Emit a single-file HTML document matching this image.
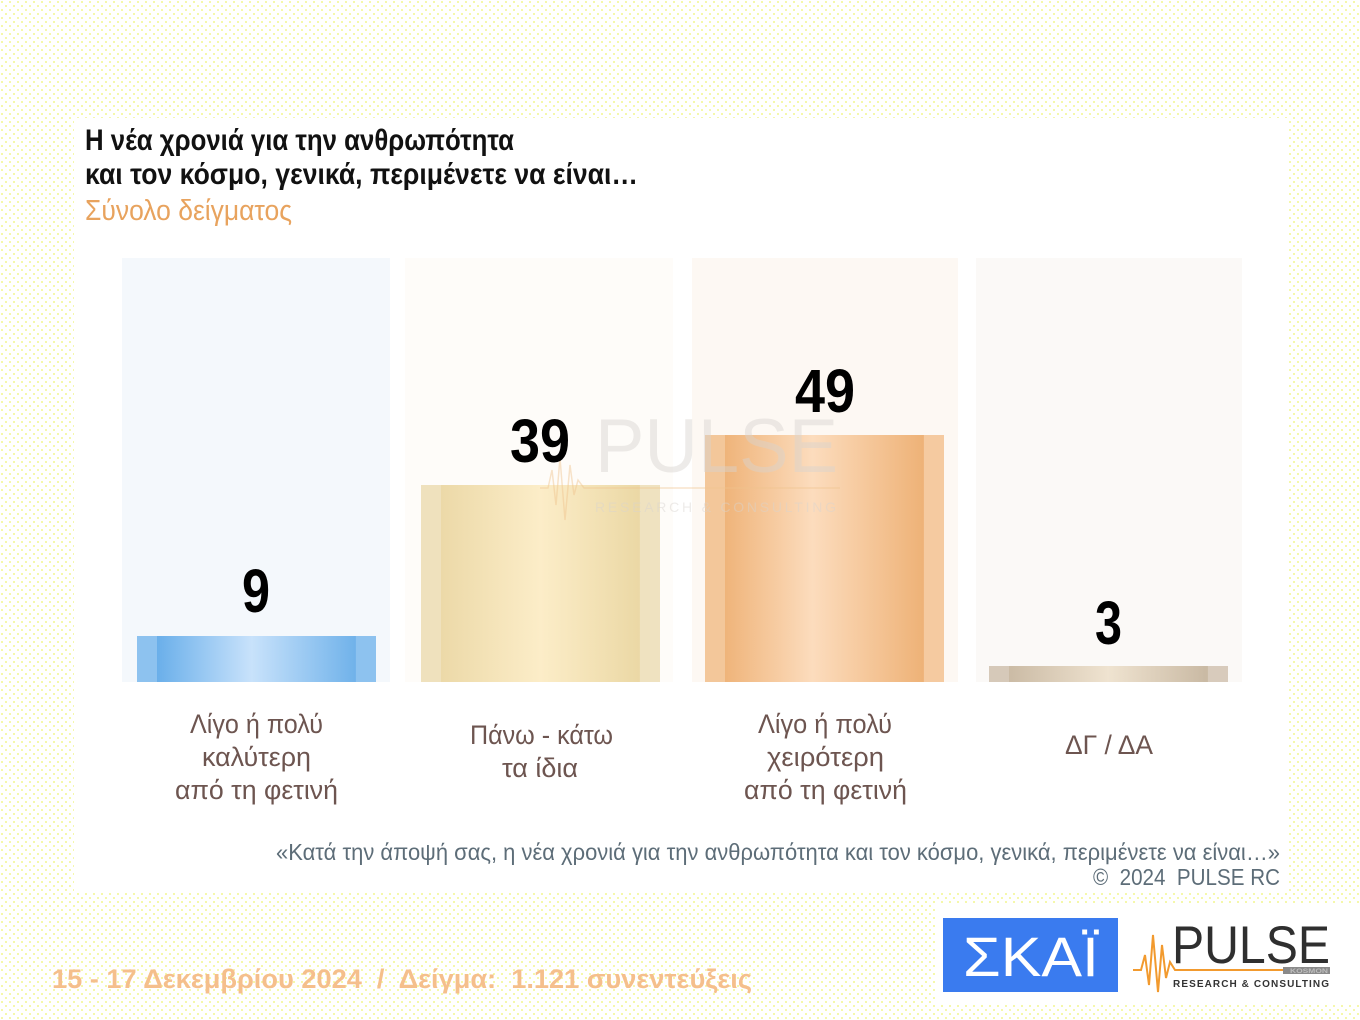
<!DOCTYPE html>
<html><head><meta charset="utf-8">
<style>
html,body{margin:0;padding:0;background:#fff;}
svg{display:block;}
text{white-space:pre;}
</style></head>
<body>
<svg width="1360" height="1020" viewBox="0 0 1360 1020" xmlns="http://www.w3.org/2000/svg" xml:space="preserve">
<defs>
<pattern id="dots" width="8" height="8" patternUnits="userSpaceOnUse">
<rect width="8" height="8" fill="#ffffff"/>
<circle cx="2" cy="2" r="1" fill="#f2f690"/>
<circle cx="6" cy="6" r="1" fill="#f2f690"/>
</pattern>
<linearGradient id="gBlue" x1="0" x2="1" y1="0" y2="0">
<stop offset="0" stop-color="#8dc2ef"/><stop offset="0.083" stop-color="#8dc2ef"/>
<stop offset="0.084" stop-color="#6aafea"/><stop offset="0.48" stop-color="#c8e2fb"/>
<stop offset="0.915" stop-color="#70b2ea"/><stop offset="0.916" stop-color="#8dc2ef"/><stop offset="1" stop-color="#8dc2ef"/>
</linearGradient>
<linearGradient id="gCream" x1="0" x2="1" y1="0" y2="0">
<stop offset="0" stop-color="#efe1bd"/><stop offset="0.083" stop-color="#efe1bd"/>
<stop offset="0.084" stop-color="#ecd9a8"/><stop offset="0.5" stop-color="#fcedc8"/>
<stop offset="0.915" stop-color="#ebd8a5"/><stop offset="0.916" stop-color="#efe2c0"/><stop offset="1" stop-color="#efe2c0"/>
</linearGradient>
<linearGradient id="gOrange" x1="0" x2="1" y1="0" y2="0">
<stop offset="0" stop-color="#f3c79a"/><stop offset="0.083" stop-color="#f3c79a"/>
<stop offset="0.084" stop-color="#efb47a"/><stop offset="0.45" stop-color="#fcdcbd"/>
<stop offset="0.915" stop-color="#eeb277"/><stop offset="0.916" stop-color="#f5caa0"/><stop offset="1" stop-color="#f5caa0"/>
</linearGradient>
<linearGradient id="gTaupe" x1="0" x2="1" y1="0" y2="0">
<stop offset="0" stop-color="#d6c9b9"/><stop offset="0.083" stop-color="#d6c9b9"/>
<stop offset="0.084" stop-color="#cbbba5"/><stop offset="0.5" stop-color="#efe3d0"/>
<stop offset="0.915" stop-color="#c9b9a3"/><stop offset="0.916" stop-color="#d8cbbc"/><stop offset="1" stop-color="#d8cbbc"/>
</linearGradient>
</defs>

<rect width="1360" height="1020" fill="url(#dots)"/>
<rect x="74" y="118" width="1214" height="775" fill="#ffffff"/>
<rect x="935" y="905" width="425" height="100" fill="#ffffff"/>

<g font-family="'Liberation Sans', 'Noto Sans CJK SC', sans-serif">
<text x="85" y="150" font-size="30" font-weight="bold" fill="#111" textLength="429" lengthAdjust="spacingAndGlyphs">Η νέα χρονιά για την ανθρωπότητα</text>
<text x="85" y="184" font-size="30" font-weight="bold" fill="#111" textLength="553" lengthAdjust="spacingAndGlyphs">και τον κόσμο, γενικά, περιμένετε να είναι…</text>
<text x="85" y="220" font-size="29" fill="#e8a35e" textLength="207" lengthAdjust="spacingAndGlyphs">Σύνολο δείγματος</text>
</g>

<rect x="122" y="258" width="268" height="424" fill="#f4f8fc"/>
<rect x="405" y="258" width="268" height="424" fill="#fefcf9"/>
<rect x="692" y="258" width="266" height="424" fill="#fdf8f3"/>
<rect x="976" y="258" width="266" height="424" fill="#fbf9f7"/>

<rect x="137" y="636" width="239" height="46" fill="url(#gBlue)"/>
<rect x="421" y="485" width="239" height="197" fill="url(#gCream)"/>
<rect x="705" y="435" width="239" height="247" fill="url(#gOrange)"/>
<rect x="989" y="666" width="239" height="16" fill="url(#gTaupe)"/>

<g opacity="0.45">
<polyline points="540,488 548,488 552,470 556,505 560,458 565,520 570,465 574,495 578,480 584,488 840,488" fill="none" stroke="#f0c48e" stroke-width="1.5"/>
<text x="595" y="472" font-family="'Liberation Sans', sans-serif" font-size="76" fill="#d8d4d0" textLength="243" lengthAdjust="spacingAndGlyphs">PULSE</text>
<text x="595" y="512" font-family="'Liberation Sans', sans-serif" font-size="14" fill="#d8d4d0" textLength="241" lengthAdjust="spacing">RESEARCH &amp; CONSULTING</text>
</g>

<g font-family="'Liberation Sans', sans-serif" font-weight="bold" font-size="61" fill="#000">
<text x="242" y="612" textLength="28" lengthAdjust="spacingAndGlyphs">9</text>
<text x="510" y="462" textLength="60" lengthAdjust="spacingAndGlyphs">39</text>
<text x="795" y="412" textLength="60" lengthAdjust="spacingAndGlyphs">49</text>
<text x="1095" y="644" textLength="27" lengthAdjust="spacingAndGlyphs">3</text>
</g>

<g font-family="'Liberation Sans', 'Noto Sans CJK SC', sans-serif" font-size="27" fill="#6d5550">
<text x="190" y="733" textLength="133" lengthAdjust="spacingAndGlyphs">Λίγο ή πολύ</text>
<text x="202" y="766" textLength="109" lengthAdjust="spacingAndGlyphs">καλύτερη</text>
<text x="175" y="799" textLength="163" lengthAdjust="spacingAndGlyphs">από τη φετινή</text>

<text x="470" y="744" textLength="143" lengthAdjust="spacingAndGlyphs">Πάνω - κάτω</text>
<text x="502" y="777" textLength="76" lengthAdjust="spacingAndGlyphs">τα ίδια</text>

<text x="758" y="733" textLength="134" lengthAdjust="spacingAndGlyphs">Λίγο ή πολύ</text>
<text x="767" y="766" textLength="117" lengthAdjust="spacingAndGlyphs">χειρότερη</text>
<text x="744" y="799" textLength="163" lengthAdjust="spacingAndGlyphs">από τη φετινή</text>

<text x="1065" y="754" textLength="88" lengthAdjust="spacingAndGlyphs">ΔΓ / ΔΑ</text>
</g>

<g font-family="'Liberation Sans', 'Noto Sans CJK SC', sans-serif" font-size="23" fill="#5d6d78">
<text x="276" y="860" textLength="1004" lengthAdjust="spacingAndGlyphs">«Κατά την άποψή σας, η νέα χρονιά για την ανθρωπότητα και τον κόσμο, γενικά, περιμένετε να είναι…»</text>
<text x="1093" y="885" textLength="187" lengthAdjust="spacingAndGlyphs">©  2024  PULSE RC</text>
</g>

<text x="52" y="988" font-family="'Liberation Sans', 'Noto Sans CJK SC', sans-serif" font-size="27" font-weight="bold" fill="#f5bf8c" textLength="700" lengthAdjust="spacingAndGlyphs">15 - 17 Δεκεμβρίου 2024  /  Δείγμα:  1.121 συνεντεύξεις</text>

<rect x="943" y="918" width="175" height="74" fill="#3a7bef"/>
<text x="963" y="976" font-family="'Liberation Sans', sans-serif" font-size="56" fill="#ffffff" textLength="136" lengthAdjust="spacingAndGlyphs">ΣΚΑΪ</text>

<text x="1172" y="963" font-family="'Liberation Sans', sans-serif" font-size="53" fill="#2f2f2f" textLength="158" lengthAdjust="spacingAndGlyphs">PULSE</text>
<polyline points="1133,970 1141,970 1145,955 1149,985 1153,935 1158,992 1162,945 1166,978 1170,962 1175,970 1283,970" fill="none" stroke="#f29a2e" stroke-width="2"/>
<rect x="1283" y="967" width="47" height="7" fill="#8a8a8a"/>
<text x="1290" y="973" font-family="'Liberation Sans', sans-serif" font-size="6" font-weight="bold" fill="#bdbdbd" textLength="38" lengthAdjust="spacingAndGlyphs">KOSMON</text>
<text x="1173" y="987" font-family="'Liberation Sans', sans-serif" font-size="10" font-weight="bold" fill="#333" textLength="156" lengthAdjust="spacing">RESEARCH &amp; CONSULTING</text>
</svg>
</body></html>
